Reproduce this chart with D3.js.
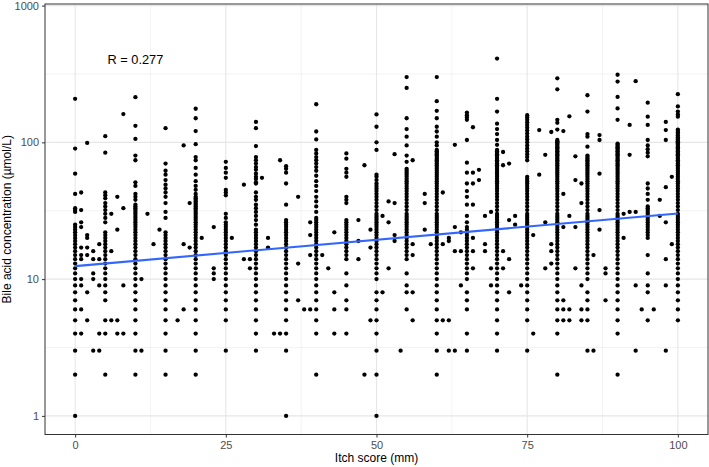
<!DOCTYPE html>
<html><head><meta charset="utf-8">
<script src="https://cdn.jsdelivr.net/npm/d3@7"></script>
<style>body{margin:0;background:#fff}svg text{font-family:"Liberation Sans",Arial,sans-serif}</style>
</head><body><svg id="c" width="709" height="467"></svg>
<script>
// ---- data ----
const xTicks = [0, 25, 50, 75, 100];
const xMinor = [12.5, 37.5, 62.5, 87.5];
const yTicks = [1, 10, 100, 1000];
const yMinor = [3.1623, 31.623, 316.23];
const xTitle = "Itch score (mm)";
const yTitle = "Bile acid concentration (\u00b5mol/L)";
const rLabel = "R = 0.277";
const rLabelPos = [10, 400];
const fitScores = [0, 100];
const fitValues = [12.45, 30.2];

// main columns (itch scores at multiples of 5) and their bile acid values
const columnScores = [0,5,10,15,20,25,30,35,40,45,50,55,60,65,70,75,80,85,90,95,100];
const columnValues = [
 [1,2,3,4,5,6,7,8,9,10,11,12,13,14,15,16,17,18,19,20,21,22,23,24,25,31,32,33,42,59,90,208],
 [2,4,5,7,8,9,10,11,12,13,14,15,16,17,18,19,20,21,22,26,28,30,32,34,36,39,41,43,84,111],
 [2,3,4,5,6,7,8,9,10,11,12,13,14,15,16,17,18,19,20,21,22,23,24,25,26,27,28,29,30,31,32,33,34,35,38,40,42,48,51,74,80,106,132,214],
 [2,3,4,5,6,7,8,9,10,11,12,13,14,15,16,17,18,19,20,21,22,28,31,36,40,43,46,49,53,58,62,70,127],
 [2,3,4,5,6,7,8,9,10,11,12,13,14,15,16,17,18,19,20,21,22,23,24,25,26,27,28,29,30,31,32,33,34,35,36,37,38,39,40,42,45,48,52,58,65,74,78,97,121,150,176],
 [3,5,6,7,8,9,10,11,12,13,14,15,16,17,18,19,20,21,22,23,24,25,26,28,30,41,43,45,55,60,65,72],
 [3,4,5,6,7,8,9,10,11,12,13,14,15,16,17,18,19,20,21,22,23,25,27,29,31,33,35,38,40,43,50,51,54,56,59,63,66,70,74,78,94,127,141],
 [1,3,4,5,6,7,8,9,10,11,12,13,14,15,16,17,18,19,20,21,22,23,24,25,26,27,35,50,60,64,67],
 [2,4,5,6,7,8,9,10,11,12,13,14,15,16,17,18,19,20,21,22,23,24,25,26,27,28,31,34,37,40,44,48,52,57,62,66,70,74,78,83,88,105,120,190],
 [4,6,7,9,11,14,15,16,17,18,19,20,21,22,23,24,25,26,27,36,38,40,56,60,64,76,83],
 [1,2,3,4,5,6,7,8,10,11,12,13,14,15,16,17,18,19,20,21,22,23,24,25,26,27,28,29,30,32,34,36,38,40,42,44,46,48,50,53,56,58,88,100,130,160],
 [6,8,9,11,14,15,16,17,18,19,20,21,22,23,24,25,26,27,28,29,30,32,34,36,38,40,42,44,46,48,50,52,54,56,58,60,62,64,72,80,95,110,125,150,250,300],
 [2,3,4,5,6,7,8,9,10,11,12,13,14,15,16,17,18,19,20,21,22,23,24,25,26,27,28,29,30,32,34,36,38,40,42,44,46,48,50,52,54,56,58,60,62,64,66,68,70,72,74,76,78,80,82,84,86,88,95,100,110,120,130,150,170,200,300],
 [3,4,6,7,8,10,11,12,13,14,15,16,17,18,19,20,21,22,23,24,26,29,35,40,44,50,60,71,104,146,152,158,165],
 [3,4,5,6,7,8,9,10,11,12,13,14,15,16,17,18,19,20,21,22,23,24,25,26,27,28,29,30,32,34,36,38,40,42,44,46,48,50,52,54,56,58,60,62,64,66,68,70,72,74,76,78,80,82,84,86,88,96,104,115,125,137,168,208,410],
 [3,5,6,7,8,9,10,11,12,13,14,15,16,17,18,19,20,21,22,23,24,25,26,27,28,29,30,32,34,36,38,40,42,44,46,48,50,52,54,56,74,78,82,86,90,95,100,105,110,116,122,128,134,140,146,152,158],
 [2,4,5,6,7,8,9,10,11,12,13,14,15,16,17,18,19,20,21,22,23,24,25,26,27,28,29,30,32,34,36,38,40,42,44,46,48,50,52,54,56,58,60,62,64,66,68,70,72,74,76,78,80,82,84,86,88,90,92,94,96,98,100,102,104,124,139,146,244,294],
 [3,5,6,7,8,10,11,12,13,14,15,16,17,18,19,20,21,22,23,24,25,26,27,28,29,30,32,34,36,38,40,42,44,46,48,50,52,54,56,58,60,62,64,66,68,70,72,74,76,78,80,93,110,115,168,221],
 [2,4,5,6,7,8,9,10,11,12,13,14,15,16,17,18,19,20,21,22,23,24,25,26,27,28,29,30,32,34,36,38,40,42,44,46,48,50,52,54,56,58,60,62,64,66,68,70,72,74,76,78,80,82,84,86,88,90,92,94,96,98,146,177,215,278,312],
 [5,8,9,11,15,20,21,22,23,24,25,26,27,28,29,30,31,32,33,34,38,42,46,50,79,84,89,95,104,134,154,195],
 [5,6,7,8,9,10,11,12,13,14,15,16,17,18,19,20,21,22,23,24,25,26,27,28,29,30,32,34,36,38,40,42,44,46,48,50,52,54,56,58,60,62,64,66,68,70,72,74,76,78,80,82,84,86,88,90,92,94,96,98,100,102,104,106,109,112,115,118,121,124,154,160,168,183,225]
];

// scattered points off the main columns: [itch score, bile acid]
const offPoints = [
 [1,43],[1,32],[1,26],[1,24],[1,17],[1,15],[1,14],[1,10],[1,9],[1,6],[1,4],
 [2,99],[2,21],[2,20],[2,17],[2,15],[2,8],[2,5],
 [3,16],[3,14],[3,11],[3,10],[3,3],
 [4,18],[4,14],[4,9],[4,4],[4,3],
 [6,30],[6,16],[6,5],[7,40],[7,23],[7,5],[7,4],
 [8,161],[8,33],[8,9],[8,4],[11,10],[11,3],[12,30],[13,18],[14,23],[17,5],
 [18,95],[18,18],[18,6],[19,36],[19,17],[21,20],[23,24],[23,12],[23,11],[23,10],
 [26,20],[28,49],[28,14],[29,14],[29,12],
 [31,55],[32,20],[32,17],[33,4],[34,74],[34,4],[37,40],[37,13],[37,7],[38,6],
 [39,26],[39,21],[39,15],[39,6],[41,15],[42,12],[43,22],[43,8],[43,6],[43,4],
 [47,27],[47,19],[47,14],[48,68],[48,2],[49,23],[49,17],[49,5],
 [51,29],[51,8],[52,37],[52,26],[52,12],[53,82],[53,36],[53,21],[53,19],[54,3],
 [56,74],[56,18],[56,15],[56,8],[56,5],[58,42],[58,36],[58,23],[59,18],
 [61,43],[61,18],[61,5],[62,20],[62,19],[62,5],[62,3],
 [63,96],[63,24],[63,16],[63,3],[64,22],[64,16],[64,9],
 [66,129],[66,60],[66,50],[66,35],[66,20],[66,16],[66,12],[67,63],[67,53],
 [68,29],[68,18],[68,16],[69,31],[69,12],[69,9],
 [71,85],[71,68],[71,16],[71,12],[72,70],[72,27],[72,14],[72,8],[73,29],[73,25],[74,9],
 [76,21],[76,4],[77,123],[77,58],[78,81],[78,26],[78,12],[79,119],[79,18],[79,16],[79,13],
 [81,121],[81,42],[81,24],[81,7],[81,6],[81,5],[82,155],[82,29],[82,6],[82,5],
 [83,79],[83,53],[83,24],[83,12],[84,50],[84,36],[84,9],[84,6],[84,5],[86,15],[86,3],
 [87,113],[87,104],[87,59],[87,32],[87,23],[88,12],[88,11],[88,7],
 [91,30],[91,20],[92,134],[92,81],[92,31],[93,280],[93,31],[93,9],[93,3],[94,6],[96,6],
 [97,38],[97,29],[98,141],[98,123],[98,104],[98,47],[98,26],[98,14],[98,9],[98,3],[99,56],[99,18]
];

// ---- drawing ----
const W = 709, H = 467;
const panel = {left: 45, right: 708, top: 4, bottom: 434.5};
const x = d3.scaleLinear().domain([-5, 105]).range([panel.left, panel.right]);
const y = d3.scaleLog().domain([0.731, 1027]).range([panel.bottom, panel.top]);
const svg = d3.select("#c");

svg.append("rect").attr("x", panel.left).attr("y", panel.top)
  .attr("width", panel.right - panel.left).attr("height", panel.bottom - panel.top)
  .attr("fill", "#fff");

const grid = svg.append("g");
grid.selectAll(".ym").data(yMinor).enter().append("line")
  .attr("x1", panel.left).attr("x2", panel.right)
  .attr("y1", d => y(d)).attr("y2", d => y(d))
  .attr("stroke", "#ebebeb").attr("stroke-width", 0.6);
grid.selectAll(".xm").data(xMinor).enter().append("line")
  .attr("y1", panel.top).attr("y2", panel.bottom)
  .attr("x1", d => x(d)).attr("x2", d => x(d))
  .attr("stroke", "#ebebeb").attr("stroke-width", 0.6);
grid.selectAll(".yM").data(yTicks).enter().append("line")
  .attr("x1", panel.left).attr("x2", panel.right)
  .attr("y1", d => y(d)).attr("y2", d => y(d))
  .attr("stroke", "#e6e6e6").attr("stroke-width", 1.1);
grid.selectAll(".xM").data(xTicks).enter().append("line")
  .attr("y1", panel.top).attr("y2", panel.bottom)
  .attr("x1", d => x(d)).attr("x2", d => x(d))
  .attr("stroke", "#e6e6e6").attr("stroke-width", 1.1);

// points
const pts = [];
columnScores.forEach((s, i) => columnValues[i].forEach(v => pts.push([s, v])));
offPoints.forEach(p => pts.push(p));
svg.append("g").selectAll("circle").data(pts).enter().append("circle")
  .attr("cx", d => x(d[0])).attr("cy", d => y(d[1])).attr("r", 2.15)
  .attr("fill", "#000");

// fit line
svg.append("path")
  .datum(fitScores.map((s, i) => [s, fitValues[i]]))
  .attr("d", d3.line().x(d => x(d[0])).y(d => y(d[1])))
  .attr("fill", "none").attr("stroke", "#3366FF").attr("stroke-width", 2.1);

// annotation
svg.append("text").attr("x", x(rLabelPos[0])).attr("y", y(rLabelPos[1]))
  .attr("dy", "0.35em").attr("text-anchor", "middle")
  .attr("font-size", 12.8).attr("fill", "#000").text(rLabel);

// panel border
svg.append("rect").attr("x", panel.left).attr("y", panel.top)
  .attr("width", panel.right - panel.left).attr("height", panel.bottom - panel.top)
  .attr("fill", "none").attr("stroke", "#333").attr("stroke-width", 1);

// axes
const xAxis = d3.axisBottom(x).tickValues(xTicks).tickSize(3).tickPadding(4).tickFormat(d3.format("d"));
const yAxis = d3.axisLeft(y).tickValues(yTicks).tickSize(3).tickPadding(3).tickFormat(d3.format("d"));
const gx = svg.append("g").attr("transform", `translate(0,${panel.bottom})`).call(xAxis);
const gy = svg.append("g").attr("transform", `translate(${panel.left},0)`).call(yAxis);
[gx, gy].forEach(g => {
  g.select(".domain").remove();
  g.selectAll(".tick line").attr("stroke", "#333");
  g.selectAll(".tick text").attr("fill", "#4d4d4d").attr("font-size", 11)
    .attr("font-family", "Liberation Sans, Arial, sans-serif");
});

svg.append("text").attr("x", (panel.left + panel.right) / 2).attr("y", 462)
  .attr("text-anchor", "middle").attr("font-size", 12).attr("fill", "#000").text(xTitle);
svg.append("text").attr("transform", `translate(11,${(panel.top + panel.bottom) / 2}) rotate(-90)`)
  .attr("text-anchor", "middle").attr("font-size", 12).attr("fill", "#000").text(yTitle);
</script></body></html>
